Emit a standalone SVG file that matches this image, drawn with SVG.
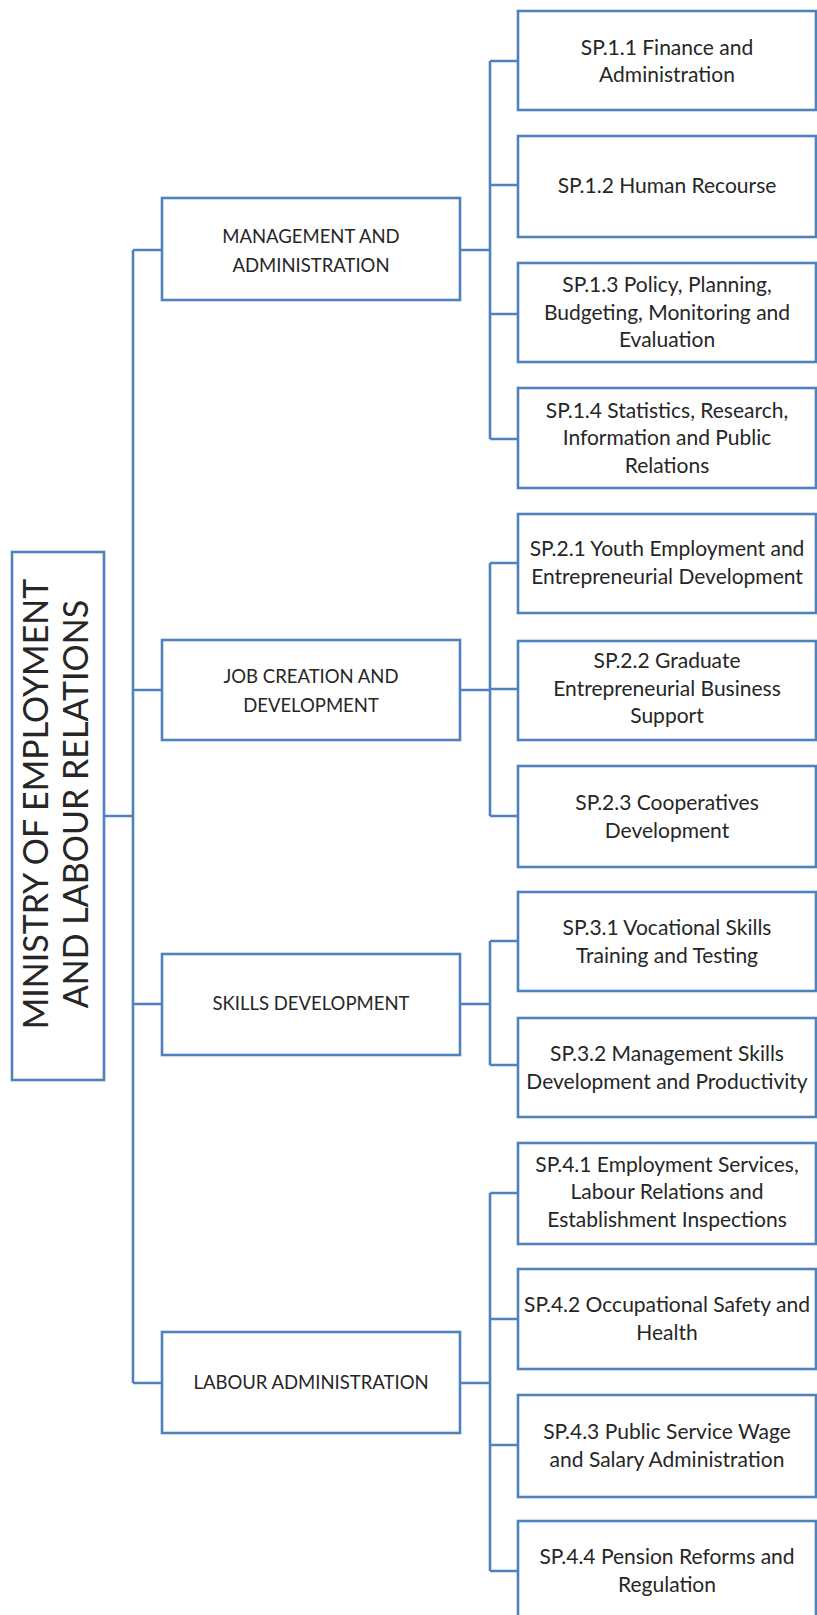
<svg xmlns="http://www.w3.org/2000/svg" width="817" height="1615" viewBox="0 0 817 1615">
<style>
.box{fill:#fff;stroke:#4F81BD;stroke-width:2.6}
.ln{fill:none;stroke:#4F81BD;stroke-width:2.6}
.t{font-family:Lato,"Liberation Sans",sans-serif;font-size:21px;fill:#262626;text-anchor:middle}
.t2{font-family:Lato,"Liberation Sans",sans-serif;font-size:18.5px;fill:#262626;text-anchor:middle}
.tm{font-family:Lato,"Liberation Sans",sans-serif;font-size:34px;fill:#262626;text-anchor:middle}
</style>
<rect width="817" height="1615" fill="#fff"/>
<g id="connectors">
<path class="ln" d="M104 816H133M133 250V1383M133 250H162M133 690H162M133 1004H162M133 1383H162"/>
<path class="ln" d="M460 250H490M490 61V439M490 61H518M490 185H518M490 314H518M490 439H518"/>
<path class="ln" d="M460 690H490M490 563V816M490 563H518M490 689H518M490 816H518"/>
<path class="ln" d="M460 1004H490M490 941V1065M490 941H518M490 1065H518"/>
<path class="ln" d="M460 1383H490M490 1193V1571M490 1193H518M490 1319H518M490 1445H518M490 1571H518"/>
</g>
<g id="ministry">
<rect class="box" x="12" y="552" width="92" height="528"/>
<text class="tm" transform="translate(48 804) rotate(-90)">MINISTRY OF EMPLOYMENT</text>
<text class="tm" transform="translate(88 804) rotate(-90)">AND LABOUR RELATIONS</text>
</g>
<g id="management">
<rect class="box" x="162" y="198" width="298" height="102"/>
<text class="t2" x="311" y="243">MANAGEMENT AND</text>
<text class="t2" x="311" y="272">ADMINISTRATION</text>
</g>
<g id="jobcreation">
<rect class="box" x="162" y="640" width="298" height="100"/>
<text class="t2" x="311" y="683">JOB CREATION AND</text>
<text class="t2" x="311" y="712">DEVELOPMENT</text>
</g>
<g id="skills">
<rect class="box" x="162" y="954" width="298" height="101"/>
<text class="t2" x="311" y="1010">SKILLS DEVELOPMENT</text>
</g>
<g id="labour">
<rect class="box" x="162" y="1332" width="298" height="101"/>
<text class="t2" x="311" y="1389">LABOUR ADMINISTRATION</text>
</g>
<g id="sp11">
<rect class="box" x="518" y="11" width="298" height="99"/>
<text class="t" x="667" y="55">SP.1.1 Finance and</text>
<text class="t" x="667" y="82">Administration</text>
</g>
<g id="sp12">
<rect class="box" x="518" y="136" width="298" height="101"/>
<text class="t" x="667" y="193">SP.1.2 Human Recourse</text>
</g>
<g id="sp13">
<rect class="box" x="518" y="263" width="298" height="99"/>
<text class="t" x="667" y="292">SP.1.3 Policy, Planning,</text>
<text class="t" x="667" y="320">Budgeting, Monitoring and</text>
<text class="t" x="667" y="347">Evaluation</text>
</g>
<g id="sp14">
<rect class="box" x="518" y="388" width="298" height="100"/>
<text class="t" x="667" y="418">SP.1.4 Statistics, Research,</text>
<text class="t" x="667" y="445">Information and Public</text>
<text class="t" x="667" y="473">Relations</text>
</g>
<g id="sp21">
<rect class="box" x="518" y="514" width="298" height="99"/>
<text class="t" x="667" y="556">SP.2.1 Youth Employment and</text>
<text class="t" x="667" y="584">Entrepreneurial Development</text>
</g>
<g id="sp22">
<rect class="box" x="518" y="641" width="298" height="99"/>
<text class="t" x="667" y="668">SP.2.2 Graduate</text>
<text class="t" x="667" y="696">Entrepreneurial Business</text>
<text class="t" x="667" y="723">Support</text>
</g>
<g id="sp23">
<rect class="box" x="518" y="766" width="298" height="101"/>
<text class="t" x="667" y="810">SP.2.3 Cooperatives</text>
<text class="t" x="667" y="838">Development</text>
</g>
<g id="sp31">
<rect class="box" x="518" y="892" width="298" height="99"/>
<text class="t" x="667" y="935">SP.3.1 Vocational Skills</text>
<text class="t" x="667" y="963">Training and Testing</text>
</g>
<g id="sp32">
<rect class="box" x="518" y="1018" width="298" height="99"/>
<text class="t" x="667" y="1061">SP.3.2 Management Skills</text>
<text class="t" x="667" y="1089">Development and Productivity</text>
</g>
<g id="sp41">
<rect class="box" x="518" y="1143" width="298" height="101"/>
<text class="t" x="667" y="1172">SP.4.1 Employment Services,</text>
<text class="t" x="667" y="1199">Labour Relations and</text>
<text class="t" x="667" y="1227">Establishment Inspections</text>
</g>
<g id="sp42">
<rect class="box" x="518" y="1269" width="298" height="100"/>
<text class="t" x="667" y="1312">SP.4.2 Occupational Safety and</text>
<text class="t" x="667" y="1340">Health</text>
</g>
<g id="sp43">
<rect class="box" x="518" y="1395" width="298" height="102"/>
<text class="t" x="667" y="1439">SP.4.3 Public Service Wage</text>
<text class="t" x="667" y="1467">and Salary Administration</text>
</g>
<g id="sp44">
<rect class="box" x="518" y="1521" width="298" height="101"/>
<text class="t" x="667" y="1564">SP.4.4 Pension Reforms and</text>
<text class="t" x="667" y="1592">Regulation</text>
</g>
</svg>
